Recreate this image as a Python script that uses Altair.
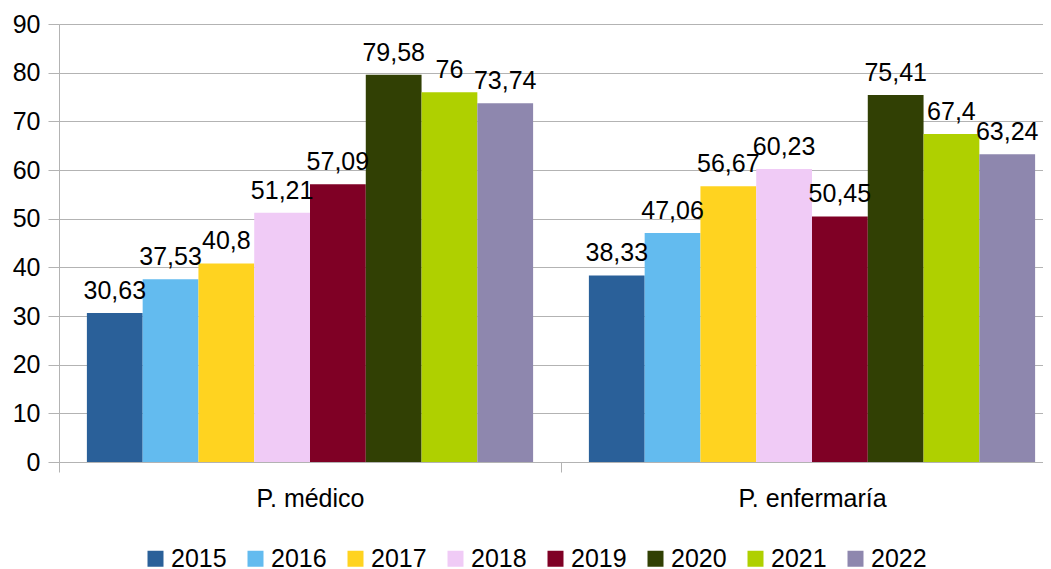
import altair as alt
import pandas as pd

categories = ["P. médico", "P. enfermaría"]
years = ["2015", "2016", "2017", "2018", "2019", "2020", "2021", "2022"]
medico = [30.63, 37.53, 40.8, 51.21, 57.09, 79.58, 76, 73.74]
enfermaria = [38.33, 47.06, 56.67, 60.23, 50.45, 75.41, 67.4, 63.24]
colors = ["#2A6099", "#63BBEF", "#FFD320", "#F0CBF6", "#7F0025", "#314004", "#AFD000", "#8E87AE"]

rows = []
for cat, vals in zip(categories, [medico, enfermaria]):
    for y, v in zip(years, vals):
        rows.append({"cat": cat, "year": y, "value": v})
df = pd.DataFrame(rows)

FONT = "Liberation Sans"
GRID = "#b3b3b3"
FS = 25

x = alt.X("cat:N", sort=categories, title=None,
          scale=alt.Scale(paddingInner=0, paddingOuter=0),
          axis=alt.Axis(labelAngle=0, labelFontSize=FS, labelFont=FONT, labelColor="#000000",
                        tickBand="extent", tickSize=10, tickColor=GRID, domainColor=GRID,
                        labelPadding=14, grid=False))
xo = alt.XOffset("year:N", sort=years, scale=alt.Scale(paddingInner=0, paddingOuter=0.5))
y = alt.Y("value:Q", title=None,
          scale=alt.Scale(domain=[0, 90], nice=False),
          axis=alt.Axis(values=list(range(0, 91, 10)), labelFontSize=FS, labelFont=FONT,
                        labelColor="#000000", tickSize=11, tickColor=GRID, domainColor=GRID,
                        gridColor=GRID, labelPadding=8, grid=True))
color = alt.Color("year:N", sort=years, title=None,
                  scale=alt.Scale(domain=years, range=colors),
                  legend=alt.Legend(orient="none", legendX=84, legendY=522, direction="horizontal",
                                    symbolType="square", symbolSize=256, symbolStrokeWidth=0,
                                    symbolOpacity=1, labelFontSize=FS, labelFont=FONT,
                                    labelColor="#000000", columnPadding=16, labelOffset=3,
                                    columns=8))

base = alt.Chart(df)
bars = base.mark_bar(strokeWidth=0).encode(x=x, xOffset=xo, y=y, color=color)
labels = base.transform_calculate(
    lab="replace(format(datum.value, '.2~f'), '.', ',')"
).mark_text(fontSize=FS, font=FONT, color="#000000", baseline="alphabetic", dy=-14).encode(
    x=x, xOffset=xo, y=y, text="lab:N")

chart = alt.layer(bars, labels).properties(
    width=1004, height=438,
    autosize=alt.AutoSizeParams(type="none"),
    padding={"left": 51, "top": 16, "right": -20, "bottom": 110},
).configure_view(stroke=None).configure(background="white")

chart.save("out.html", embed_options={"renderer": "svg", "actions": False})
